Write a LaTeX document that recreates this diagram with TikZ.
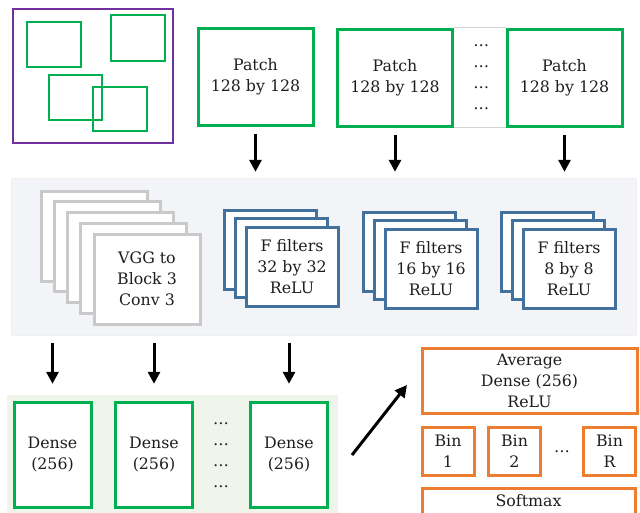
\documentclass[tikz,border=0pt]{standalone}
\usepackage{fontspec}
\setmainfont{DejaVu Serif}
\usepackage{xcolor}
\usepackage{tikz}
\usetikzlibrary{positioning}
\usetikzlibrary{arrows.meta}

\definecolor{cropgreen}{HTML}{00B050}
\definecolor{framepurple}{HTML}{7030A0}
\definecolor{filterblue}{HTML}{41719C}
\definecolor{headorange}{HTML}{ED7D31}
\definecolor{vgggray}{HTML}{C9C9C9}
\definecolor{convbg}{HTML}{F3F4F8}
\definecolor{densebg}{HTML}{F0F5EC}
\definecolor{inktext}{HTML}{1E1E1E}

\tikzset{
  every node/.style={font=\fontsize{15.8}{21}\selectfont, text=inktext, align=center, inner sep=0pt},
  patch/.style={draw=cropgreen, line width=3pt, fill=white, minimum width=115pt, minimum height=97pt},
  cropbox/.style={draw=cropgreen, line width=2.6pt},
  vggbox/.style={draw=vgggray, line width=3pt, fill=white, minimum width=106pt, minimum height=90pt},
  filterbox/.style={draw=filterblue, line width=3pt, fill=white, minimum width=92pt, minimum height=79pt},
  densebox/.style={draw=cropgreen, line width=3pt, fill=white, minimum width=77pt, minimum height=105pt},
  headbox/.style={draw=headorange, line width=3pt, fill=white},
  binbox/.style={headbox, minimum width=52pt, minimum height=48pt},
  flow/.style={-{Triangle[length=12pt,width=12pt]}, line width=3pt, black},
}

\begin{document}
\begin{tikzpicture}[x=1pt, y=-1pt]
\useasboundingbox (0,0) rectangle (640,512);
% input image and its crops
  \node (image) [draw=framepurple, line width=2.6pt, minimum width=160pt, minimum height=134pt] at (93,76) {};
  \draw [cropbox] (27,22) rectangle (81,67);
  \draw [cropbox] (111,15) rectangle (165,61);
  \draw [cropbox] (49,75) rectangle (102,120);
  \draw [cropbox] (93,87) rectangle (147,131);
% patches
  \node (patch1) [patch] at (255.5,77) {Patch\\128 by 128};
  \node (patch2) [patch] at (395,77.5) {Patch\\128 by 128};
  \node (patch3) [patch] at (564.5,77.5) {Patch\\128 by 128};
  \node (gap) [minimum width=54pt, minimum height=97pt, right=0pt of patch2] {…\\…\\…\\…};
  \draw [gray!35, line width=0.9pt] (patch2.north east) -- (patch3.north west);
  \draw [gray!35, line width=0.9pt] (patch2.south east) -- (patch3.south west);
% convolution panel
  \node (convpanel) [fill=convbg, draw=gray!12, minimum width=625pt, minimum height=157pt] at (323.5,256.5) {};
  \foreach \i in {0,...,3}
    \node (vgg\i) [vggbox] at ({94+13.25*\i},{236+10.75*\i}) {};
  \node (vgg) [vggbox] at (147,279) {VGG to\\Block 3\\Conv 3};
  \foreach \cx/\cy/\nm in {292/266.5/a, 431/268.5/b, 569/268.5/c} {
    \node (\nm back1) [filterbox] at ({\cx-22},{\cy-17}) {};
    \node (\nm back2) [filterbox] at ({\cx-11},{\cy-8.5}) {};
  }
  \node (filt32) [filterbox] at (292,266.5) {F filters\\32 by 32\\ReLU};
  \node (filt16) [filterbox] at (431,268.5) {F filters\\16 by 16\\ReLU};
  \node (filt8) [filterbox] at (569,268.5) {F filters\\8 by 8\\ReLU};
% arrows into the panel
  \foreach \p in {patch1,patch2,patch3}
    \draw [flow, shorten <=7pt, shorten >=6pt] (\p) -- (\p |- convpanel.north);
% dense layers
  \node (densepanel) [fill=densebg, minimum width=331pt, minimum height=130pt] at (172.5,460) {};
  \node (dense1) [densebox] at (52.5,454.5) {Dense\\(256)};
  \node (dense2) [densebox] at (154,454.5) {Dense\\(256)};
  \node (dense3) [densebox] at (289,454.5) {Dense\\(256)};
  \node (densedots) at (221,455) {…\\…\\…\\…};
  \foreach \d in {dense1,dense2,dense3}
    \draw [flow, shorten <=8pt, shorten >=11pt] (\d |- convpanel.south) -- (\d |- densepanel.north);
% output head
  \node (avg) [headbox, minimum width=215pt, minimum height=65pt] at (529.5,380.5) {Average\\Dense (256)\\ReLU};
  \node (bin1) [binbox] at (448,451) {Bin\\1};
  \node (bin2) [binbox] at (514.5,451) {Bin\\2};
  \node (binR) [binbox] at (609.5,451) {Bin\\R};
  \node (bindots) at (562,452) {…};
  \node (softmax) [headbox, minimum width=213pt, minimum height=26pt] at (528.5,501) {Softmax};
  \coordinate (pool) at (352,455);
  \coordinate (avgin) at (407,385);
  \draw [flow] (pool) -- (avgin);
\end{tikzpicture}
\end{document}
